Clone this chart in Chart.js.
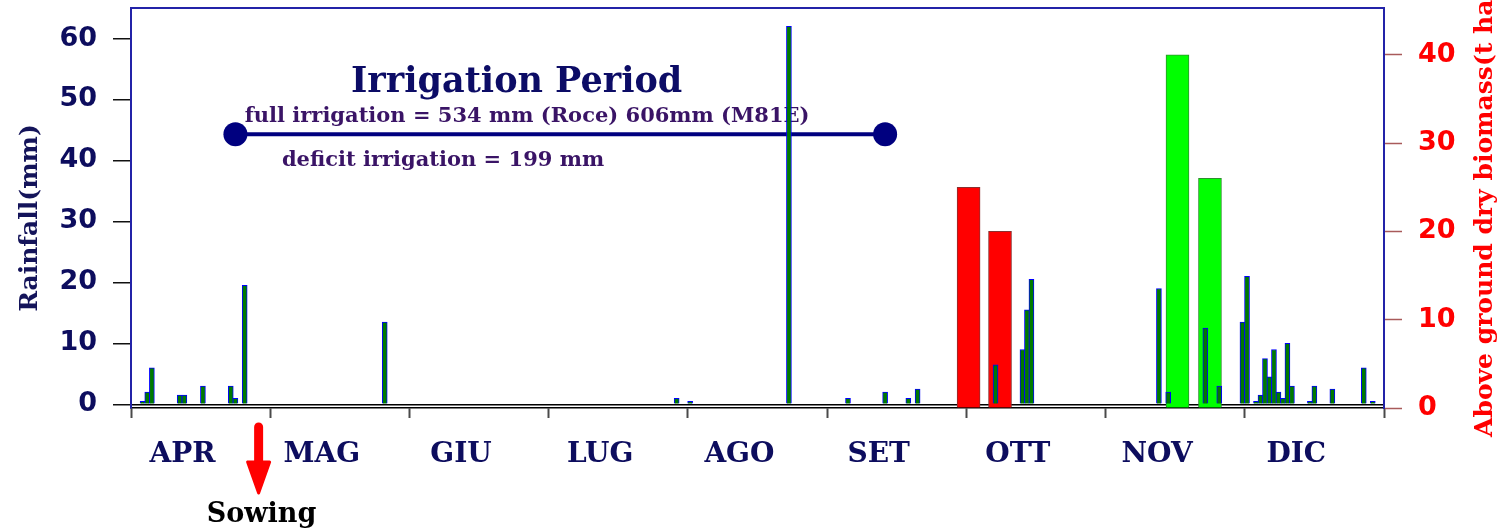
<!DOCTYPE html>
<html>
<head>
<meta charset="utf-8">
<title>Rainfall and above ground biomass</title>
<script src="https://cdn.jsdelivr.net/npm/chart.js@4/dist/chart.umd.min.js"></script>
<style>
  html, body { margin: 0; padding: 0; background: #ffffff; }
  #wrap { width: 1502px; height: 532px; position: relative; }
</style>
</head>
<body>
<div id="wrap"><canvas id="chart"></canvas></div>
<script>
// Season months (April to December), each drawn with the same width
const months = ['APR', 'MAG', 'GIU', 'LUG', 'AGO', 'SET', 'OTT', 'NOV', 'DIC'];
const monthDays = [30, 31, 30, 31, 31, 30, 31, 30, 31];

// Daily rainfall events (MM-DD) and amounts in mm
const rainDates = ['04-03', '04-04', '04-05', '04-11', '04-12', '04-16', '04-22', '04-23', '04-25',
                   '05-26',
                   '07-29',
                   '08-01', '08-23',
                   '09-05', '09-13', '09-18', '09-20',
                   '10-07', '10-13', '10-14', '10-15',
                   '11-12', '11-14', '11-22', '11-25', '11-30',
                   '12-01', '12-03', '12-04', '12-05', '12-06', '12-07', '12-08', '12-09', '12-10',
                   '12-11', '12-15', '12-16', '12-20', '12-27', '12-29'];
const rainMm = [0.5, 2, 6, 1.5, 1.5, 3, 3, 1, 19.5,
                13.5,
                1,
                0.5, 62,
                1, 2, 1, 2.5,
                6.5, 9, 15.5, 20.5,
                19, 2, 12.5, 3, 13.5,
                21, 0.5, 1.5, 7.5, 4.5, 9, 2, 1, 10,
                3, 0.5, 3, 2.5, 6, 0.5];

// Harvest sampling dates and above ground dry biomass (t/ha)
const biomassDates = ['10-01', '10-08', '11-16', '11-23'];
const biomassT = [25, 20, 40, 26];

// Axis ticks
const rainTicks = [0, 10, 20, 30, 40, 50, 60];
const biomassTicks = [0, 10, 20, 30, 40];

// Irrigation period and sowing
const irrigationDates = ['04-23', '09-13'];
const irrigationLevelMm = 44.3;
const sowingDate = '04-28';

// Texts
const periodTitle = 'Irrigation Period';
const fullIrrigationNote = 'full irrigation = 534 mm (Roce) 606mm (M81E)';
const deficitNote = 'deficit irrigation = 199 mm';
const rainTitle = 'Rainfall(mm)';
const biomassTitle = 'Above ground dry biomass(t ha-1)';
const sowingLabel = 'Sowing';

// Month index + fraction of the month for a MM-DD date
function toX(mmdd) {
  const [mm, dd] = mmdd.split('-').map(Number);
  const m = mm - 4;
  return m + (dd - 0.5) / monthDays[m];
}

const NAVY = '#0d0d5e';
const SERIF = '"DejaVu Serif", "Liberation Serif", serif';
const SANS = '"DejaVu Sans", "Liberation Sans", sans-serif';
const LABEL_SHIFT = 0.37;

const annotationText = {
  id: 'annotationText',
  beforeDatasetsDraw(chart) {
    const { ctx, scales: { x, y } } = chart;
    ctx.save();
    ctx.textAlign = 'center';
    ctx.textBaseline = 'alphabetic';
    ctx.fillStyle = '#0c0c66';
    ctx.font = 'bold 35px ' + SERIF;
    ctx.fillText(periodTitle, x.getPixelForValue(2.77), y.getPixelForValue(51.2));
    ctx.fillStyle = '#3a1466';
    ctx.font = 'bold 21px ' + SERIF;
    ctx.fillText(fullIrrigationNote, x.getPixelForValue(2.845), y.getPixelForValue(46.3));
    ctx.fillText(deficitNote, x.getPixelForValue(2.241), y.getPixelForValue(39.1));
    ctx.restore();
  }
};

const outerDecor = {
  id: 'outerDecor',
  afterDraw(chart) {
    const { ctx, chartArea, scales: { x } } = chart;
    ctx.save();
    // axis titles
    ctx.font = 'bold 25px ' + SERIF;
    ctx.textBaseline = 'middle';
    ctx.fillStyle = '#14145a';
    ctx.save();
    ctx.translate(30, 218);
    ctx.rotate(-Math.PI / 2);
    ctx.textAlign = 'center';
    ctx.fillText(rainTitle, 0, 0);
    ctx.restore();
    ctx.fillStyle = '#ff0000';
    ctx.save();
    ctx.translate(1485, 437);
    ctx.rotate(-Math.PI / 2);
    ctx.textAlign = 'left';
    ctx.fillText(biomassTitle, 0, 0);
    ctx.restore();

    // sowing arrow below the axis
    const sx = x.getPixelForValue(toX(sowingDate));
    ctx.strokeStyle = '#ff0000';
    ctx.fillStyle = '#ff0000';
    ctx.lineCap = 'round';
    ctx.lineJoin = 'round';
    ctx.lineWidth = 9;
    ctx.beginPath();
    ctx.moveTo(sx, chartArea.bottom + 19);
    ctx.lineTo(sx, chartArea.bottom + 60);
    ctx.stroke();
    ctx.lineWidth = 3;
    ctx.beginPath();
    ctx.moveTo(sx - 11, chartArea.bottom + 54);
    ctx.lineTo(sx + 11, chartArea.bottom + 54);
    ctx.lineTo(sx, chartArea.bottom + 85);
    ctx.closePath();
    ctx.fill();
    ctx.stroke();
    ctx.fillStyle = '#000000';
    ctx.font = 'bold 27px ' + SERIF;
    ctx.textAlign = 'center';
    ctx.textBaseline = 'alphabetic';
    ctx.fillText(sowingLabel, sx + 3, chartArea.bottom + 114);
    ctx.restore();
  }
};

function noPad(scale) {
  scale.paddingTop = 0;
  scale.paddingBottom = 0;
  scale.paddingLeft = 0;
  scale.paddingRight = 0;
}

new Chart(document.getElementById('chart'), {
  type: 'bar',
  data: {
    datasets: [
      {
        label: 'Rainfall',
        type: 'bar',
        data: rainDates.map((d, i) => ({ x: toX(d), y: rainMm[i] })),
        xAxisID: 'x',
        yAxisID: 'y',
        backgroundColor: '#007a00',
        borderColor: '#0000ff',
        borderWidth: 1,
        barThickness: 5,
        grouped: false,
        order: 0
      },
      {
        label: 'Biomass',
        type: 'bar',
        data: biomassDates.map((d, i) => ({ x: toX(d), y: biomassT[i] })),
        xAxisID: 'x',
        yAxisID: 'y2',
        backgroundColor: ['#ff0000', '#ff0000', '#00ff00', '#00ff00'],
        borderColor: ['#8a3030', '#8a3030', '#2f8f2f', '#2f8f2f'],
        borderWidth: 1,
        barThickness: 23,
        grouped: false,
        order: 1
      },
      {
        label: 'Irrigation period',
        type: 'line',
        data: irrigationDates.map(d => ({ x: toX(d), y: irrigationLevelMm })),
        xAxisID: 'x',
        yAxisID: 'y',
        borderColor: '#00007f',
        borderWidth: 4,
        pointRadius: 12,
        pointHoverRadius: 12,
        pointBackgroundColor: '#00007f',
        pointBorderWidth: 0,
        order: 2
      }
    ]
  },
  options: {
    responsive: true,
    maintainAspectRatio: false,
    animation: false,
    events: [],
    layout: { padding: 0, autoPadding: false },
    plugins: {
      legend: { display: false },
      tooltip: { enabled: false }
    },
    scales: {
      x: {
        type: 'linear',
        position: 'bottom',
        offset: false,
        min: 0,
        max: 9,
        afterBuildTicks(scale) {
          const t = [];
          months.forEach((_, i) => {
            t.push({ value: i });
            t.push({ value: i + LABEL_SHIFT });
          });
          t.push({ value: months.length });
          scale.ticks = t;
        },
        afterFit(scale) { scale.height = 124; noPad(scale); },
        ticks: {
          autoSkip: false,
          maxRotation: 0,
          minRotation: 0,
          padding: 20,
          color: NAVY,
          font: { family: SERIF, size: 28, weight: 'bold' },
          callback: (value) => Number.isInteger(value) ? '' : months[Math.floor(value)]
        },
        grid: {
          offset: false,
          drawOnChartArea: false,
          tickLength: 10,
          tickWidth: 2,
          tickColor: (c) => (c.tick && Number.isInteger(c.tick.value)) ? '#4a4a4a' : 'rgba(0,0,0,0)'
        },
        border: { display: true, color: '#000000', width: 1.5 }
      },
      xTop: {
        type: 'linear',
        position: 'top',
        offset: false,
        min: 0,
        max: 9,
        afterFit(scale) { scale.height = 8; noPad(scale); },
        ticks: { display: false },
        grid: { drawOnChartArea: false, drawTicks: false },
        border: { display: true, color: '#2323a8', width: 2 }
      },
      y: {
        type: 'linear',
        position: 'left',
        min: -0.6,
        max: 65,
        afterBuildTicks(scale) { scale.ticks = rainTicks.map(v => ({ value: v })); },
        afterFit(scale) { scale.width = 131; noPad(scale); },
        ticks: {
          padding: 16,
          color: NAVY,
          font: { family: SANS, size: 27, weight: 'bold' }
        },
        grid: {
          drawOnChartArea: true,
          color: (c) => (c.tick && c.tick.value === 0) ? '#000000' : 'rgba(0,0,0,0)',
          lineWidth: 1.5,
          tickColor: '#111111',
          tickLength: 18,
          tickWidth: 1.5
        },
        border: { display: true, color: '#2323a8', width: 2 }
      },
      y2: {
        type: 'linear',
        position: 'right',
        min: 0,
        max: 45.3,
        afterBuildTicks(scale) { scale.ticks = biomassTicks.map(v => ({ value: v })); },
        afterFit(scale) { scale.width = 118; noPad(scale); },
        ticks: {
          padding: 16,
          color: '#ff0000',
          font: { family: SANS, size: 27, weight: 'bold' }
        },
        grid: {
          drawOnChartArea: false,
          tickColor: '#a85a5a',
          tickLength: 18,
          tickWidth: 1.5
        },
        border: { display: true, color: '#2323a8', width: 2 }
      }
    }
  },
  plugins: [annotationText, outerDecor]
});
</script>
</body>
</html>
